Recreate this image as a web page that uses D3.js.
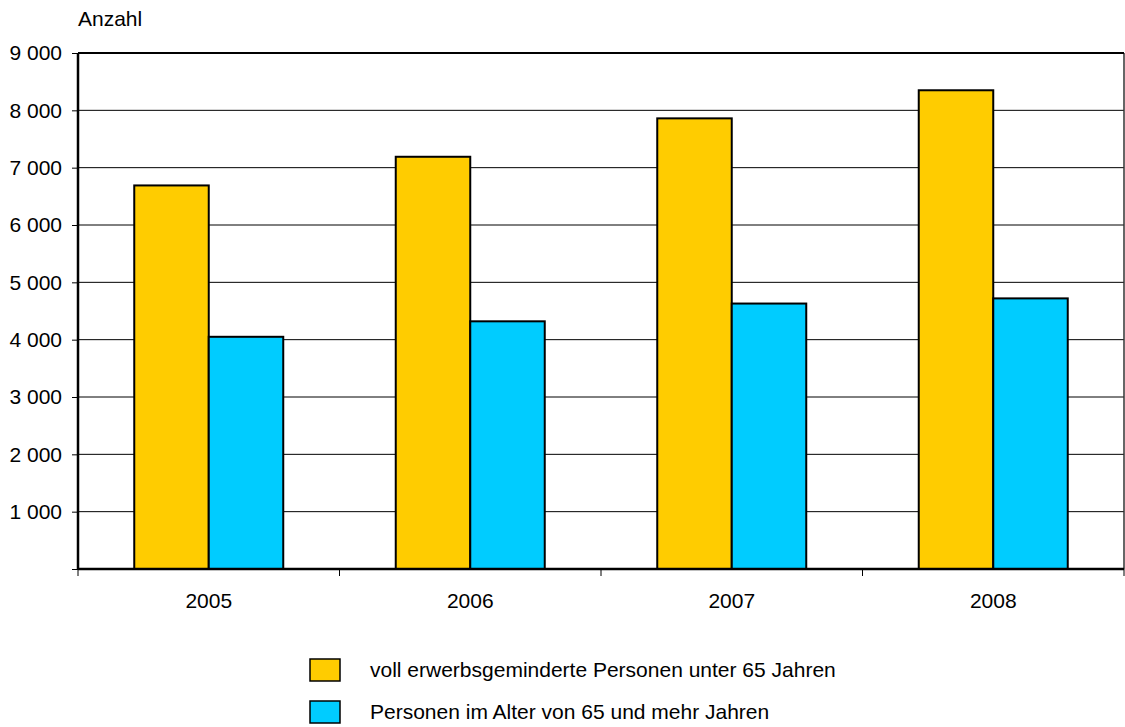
<!DOCTYPE html>
<html><head><meta charset="utf-8">
<script src="https://cdn.jsdelivr.net/npm/d3@7"></script>
<style>body{margin:0;background:#fff;} text{font-family:"Liberation Sans",Arial,sans-serif;}</style>
</head><body>
<svg id="c" width="1125" height="727"></svg>
<script>
const years = ["2005","2006","2007","2008"];
const seriesNames = ["voll erwerbsgeminderte Personen unter 65 Jahren","Personen im Alter von 65 und mehr Jahren"];
const under65 = [6690, 7190, 7860, 8350];
const over65 = [4050, 4320, 4630, 4720];
const yTicks = [0,1000,2000,3000,4000,5000,6000,7000,8000,9000];
const colors = ["#FFCC00","#00CCFF"];

const FS = 21;
const svg = d3.select("#c");
const L=78, R=1124, T=53, B=569;
const x = d3.scaleBand().domain(years).range([L,R]).paddingInner(0).paddingOuter(0);
const inner = d3.scaleBand().domain([0,1]).range([0,x.bandwidth()]).paddingOuter(0.755).paddingInner(0);
const y = d3.scaleLinear().domain([0,9000]).range([B,T]);
const fmt = v => v===0 ? "" : d3.format(",")(v).replace(/,/g," ");

// grid
svg.append("g").selectAll("line").data(yTicks.filter(d=>d>0)).join("line")
  .attr("x1",L).attr("x2",R).attr("y1",d=>y(d)).attr("y2",d=>y(d))
  .attr("stroke","#000").attr("stroke-width",1);
svg.append("line").attr("x1",R).attr("x2",R).attr("y1",T).attr("y2",B).attr("stroke","#333").attr("stroke-width",1.5);
svg.append("line").attr("x1",L).attr("x2",R).attr("y1",T).attr("y2",T).attr("stroke","#000").attr("stroke-width",2);

// bars
const data = [under65, over65];
data.forEach((vals,si)=>{
  svg.append("g").selectAll("rect").data(vals).join("rect")
    .attr("x",(d,i)=>x(years[i])+inner(si))
    .attr("width",inner.bandwidth())
    .attr("y",d=>y(d)).attr("height",d=>B-y(d))
    .attr("fill",colors[si]).attr("stroke","#000").attr("stroke-width",2);
});

// y axis
const ya = d3.axisLeft(y).tickValues(yTicks).tickFormat(fmt).tickSize(6).tickPadding(10);
const yg = svg.append("g").attr("transform",`translate(${L},0)`).call(ya);
yg.select(".domain").attr("stroke-width",2.5).attr("d",`M0,${T}V${B}`);
yg.selectAll(".tick line").attr("stroke-width",1);
yg.selectAll("text").attr("font-size",FS).attr("fill","#000").attr("font-family","Liberation Sans, Arial, sans-serif");

// x axis
const xg = svg.append("g").attr("transform",`translate(0,${B})`);
xg.append("line").attr("x1",L).attr("x2",R).attr("stroke","#000").attr("stroke-width",2.5);
xg.selectAll(".xt").data(years.map(yv=>x(yv)).concat([R])).join("line")
  .attr("x1",d=>d).attr("x2",d=>d).attr("y1",0).attr("y2",7).attr("stroke","#000");
xg.selectAll(".xl").data(years).join("text")
  .attr("x",d=>x(d)+x.bandwidth()/2).attr("y",39).attr("text-anchor","middle")
  .attr("font-size",FS).text(d=>d);

svg.append("text").attr("x",78).attr("y",26).attr("font-size",FS).text("Anzahl");

// legend
const lg = svg.append("g");
seriesNames.forEach((n,i)=>{
  const yy = 659 + i*42;
  lg.append("rect").attr("x",310).attr("y",yy).attr("width",30).attr("height",22)
    .attr("fill",colors[i]).attr("stroke","#000").attr("stroke-width",1.5);
  lg.append("text").attr("x",370).attr("y",yy+18).attr("font-size",FS).text(n);
});
</script>
</body></html>
